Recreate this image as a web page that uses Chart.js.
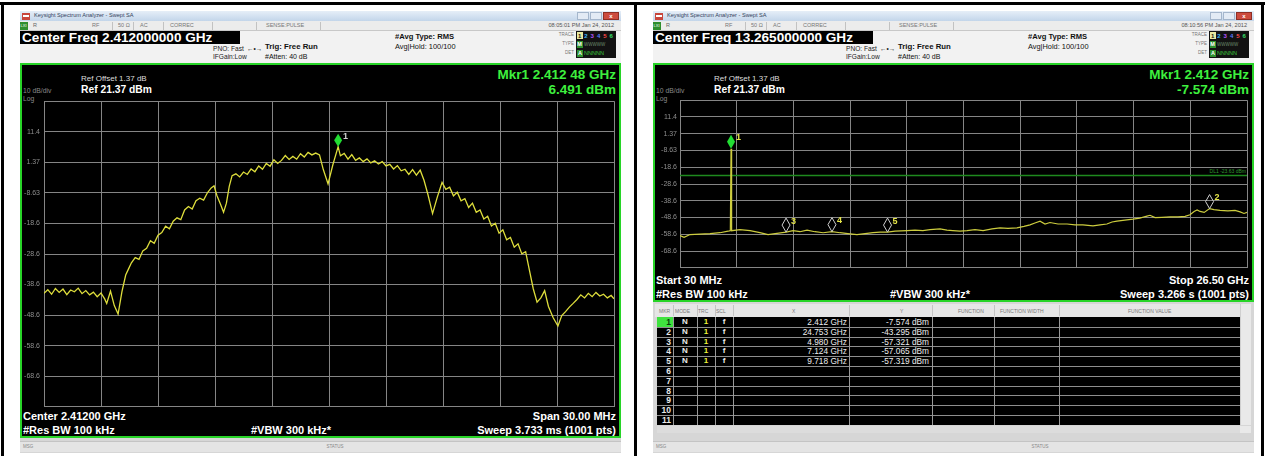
<!DOCTYPE html>
<html>
<head>
<meta charset="utf-8">
<script src="https://cdn.jsdelivr.net/npm/chart.js@4.4.1/dist/chart.umd.min.js"></script>
<style>
html,body{margin:0;padding:0;background:#fff;}
body{position:relative;width:1265px;height:456px;overflow:hidden;font-family:"Liberation Sans",Arial,Helvetica,sans-serif;}
.a{position:absolute;box-sizing:border-box;}
.t{position:absolute;white-space:nowrap;line-height:1;}
canvas{position:absolute;display:block;}
</style>
</head>
<body>
<script>
// ---------------- DATA ----------------
const refLevelDbm = 21.37;
const dbPerDiv = 10;
// y tick labels, top gridline to bottom gridline
const yTickLabels = ['', '11.4', '1.37', '-8.63', '-18.6', '-28.6', '-38.6', '-48.6', '-58.6', '-68.6', ''];

// Left plot: centre 2.412 GHz, span 30 MHz (values in MHz)
const leftFreqMHz = [
2397.0,2397.2,2397.4,2397.6,2397.8,2398.0,2398.2,2398.4,2398.6,2398.8,
2399.0,2399.2,2399.4,2399.6,2399.8,2400.0,2400.2,2400.3,2400.5,2400.7,
2400.9,2401.1,2401.3,2401.45,2401.6,2401.8,2402.0,2402.2,2402.4,2402.6,
2402.8,2403.0,2403.2,2403.4,2403.6,2403.8,2404.0,2404.2,2404.4,2404.6,
2404.8,2405.0,2405.2,2405.4,2405.6,2405.8,2405.95,2406.1,2406.3,2406.45,
2406.6,2406.75,2406.9,2407.1,2407.3,2407.5,2407.7,2407.9,2408.1,2408.3,
2408.5,2408.7,2408.9,2409.1,2409.3,2409.5,2409.7,2409.9,2410.1,2410.3,
2410.5,2410.7,2410.9,2411.1,2411.3,2411.5,2411.7,2411.95,2412.2,2412.48,
2412.6,2412.8,2413.0,2413.2,2413.4,2413.6,2413.8,2414.0,2414.2,2414.4,
2414.6,2414.8,2415.0,2415.2,2415.4,2415.6,2415.8,2416.0,2416.2,2416.4,
2416.6,2416.8,2417.0,2417.2,2417.45,2417.7,2417.95,2418.15,2418.35,2418.55,
2418.75,2418.95,2419.15,2419.35,2419.55,2419.75,2419.95,2420.15,2420.35,2420.55,
2420.75,2420.95,2421.15,2421.35,2421.55,2421.75,2421.95,2422.15,2422.35,2422.55,
2422.75,2422.95,2423.15,2423.35,2423.55,2423.8,2424.05,2424.25,2424.45,2424.65,
2424.85,2425.05,2425.25,2425.45,2425.65,2425.85,2426.05,2426.25,2426.45,2426.65,
2426.85,2427.0];
const leftLevelDbm = [
-41.5,-40.3,-41.8,-39.9,-41.2,-40.1,-41.9,-40.4,-41.0,-39.8,
-41.6,-40.6,-42.0,-41.1,-42.6,-41.4,-43.4,-44.8,-40.8,-45.5,
-48.3,-41.0,-35.5,-33.5,-31.5,-29.8,-30.4,-27.6,-26.8,-24.3,
-25.1,-22.5,-21.6,-19.5,-20.4,-17.9,-16.8,-17.4,-14.2,-13.1,
-13.9,-11.2,-10.4,-11.0,-8.6,-7.0,-6.3,-9.5,-12.5,-15.0,
-12.0,-6.5,-3.0,-2.4,-3.4,-1.8,-2.6,-0.8,-1.7,0.2,
-0.9,1.0,0.1,2.2,1.0,2.0,3.6,2.3,3.3,2.4,
4.2,3.1,4.6,3.8,4.4,3.8,-1.0,-5.7,0.5,6.49,
3.5,4.3,2.4,3.9,2.0,2.8,1.6,2.5,1.2,1.9,
0.8,1.6,0.2,0.7,-0.8,0.3,-1.4,-0.9,-2.6,-1.0,
-2.8,-1.2,-4.5,-9.0,-15.4,-10.0,-5.2,-7.5,-6.8,-9.6,
-8.4,-11.2,-10.5,-13.4,-12.0,-15.0,-14.2,-17.2,-16.3,-19.5,
-18.6,-21.8,-20.7,-24.0,-23.2,-26.4,-25.3,-28.6,-27.9,-34.0,
-40.0,-44.4,-43.0,-40.6,-45.8,-49.5,-52.2,-48.8,-47.5,-46.0,
-44.8,-43.5,-42.0,-43.0,-41.5,-42.6,-41.2,-42.4,-41.8,-43.0,
-42.2,-43.3];
const leftMarkerFreqMHz = [2412.48];
const leftMarkerLevelDbm = [6.491];

// Right plot: 30 MHz .. 26.5 GHz (values in GHz)
const rightFreqGHz = [
0.03,0.22,0.50,0.96,1.43,1.90,2.27,2.38,2.412,2.44,
2.83,3.30,3.76,4.14,4.47,4.98,5.31,5.63,5.96,6.33,
6.71,7.124,7.50,7.87,8.29,8.67,9.04,9.37,9.718,10.07,
10.63,11.00,11.37,11.70,12.17,12.49,12.77,13.10,13.43,13.80,
14.18,14.60,14.97,15.34,15.76,16.09,16.37,16.60,16.84,17.07,
17.30,17.68,18.10,18.47,18.84,19.31,19.64,19.96,20.20,20.43,
20.80,21.18,21.50,21.79,21.97,22.21,22.53,22.91,23.28,23.61,
23.84,24.03,24.17,24.31,24.50,24.753,24.96,25.24,25.61,25.94,
26.18,26.36,26.50];
const rightLevelDbm = [
-59.4,-60.5,-58.8,-58.5,-58.2,-57.7,-56.8,-56.5,-7.574,-56.5,
-55.9,-56.5,-57.6,-58.8,-58.2,-57.321,-56.5,-57.1,-56.2,-57.1,
-57.7,-57.065,-57.7,-58.2,-58.8,-58.2,-57.7,-57.4,-57.319,-56.8,
-56.5,-56.2,-56.5,-55.9,-55.4,-56.2,-56.5,-56.8,-56.5,-55.9,
-56.5,-55.4,-54.8,-55.1,-54.8,-53.9,-53.0,-51.9,-50.8,-52.5,
-51.6,-52.5,-52.5,-53.0,-53.0,-53.6,-53.0,-52.5,-51.3,-50.8,
-50.2,-49.6,-49.0,-47.9,-47.3,-48.7,-48.5,-48.2,-48.2,-47.9,
-47.0,-45.0,-44.1,-45.0,-45.6,-43.295,-43.9,-44.4,-44.7,-44.4,
-45.3,-46.2,-45.6];
const rightMarkerIds = [1, 2, 3, 4, 5];
const rightMarkerFreqGHz = [2.412, 24.753, 4.980, 7.124, 9.718];
const rightMarkerLevelDbm = [-7.574, -43.295, -57.321, -57.065, -57.319];
const displayLineDbm = -23.63;

// ---------------- HELPERS ----------------
function el(cls, css, text) {
  const d = document.createElement('div');
  d.className = cls; d.style.cssText = css;
  if (text != null) d.textContent = text;
  document.body.appendChild(d); return d;
}
function box(x, y, w, h, css) { return el('a', `left:${x}px;top:${y}px;width:${w}px;height:${h}px;${css || ''}`); }
function txt(s, x, y, fs, color, o) {
  o = o || {};
  const tx = o.align === 'right' ? '-100%' : o.align === 'center' ? '-50%' : '0';
  return el('t', `left:${x}px;top:${y}px;font-size:${fs}px;color:${color};font-weight:${o.bold ? 'bold' : 'normal'};transform:translate(${tx},-50%);${o.css || ''}`, s);
}
function mkCanvas(x, y, w, h) {
  const c = document.createElement('canvas');
  c.width = w; c.height = h;
  c.style.cssText = `left:${x}px;top:${y}px;width:${w}px;height:${h}px;`;
  document.body.appendChild(c); return c;
}

// ---------------- PAGE FRAME ----------------
box(0, 2, 1265, 3, 'background:#000;');
box(1, 2, 3, 454, 'background:#000;');
box(634, 2, 3, 454, 'background:#000;');
box(1261, 2, 3, 454, 'background:#000;');

function buildShot(ox, c) {
  box(ox, 11, 601, 442, 'background:#d6d6d6;');
  // title bar
  box(ox, 11, 601, 10, 'background:linear-gradient(#e6eef8,#c3d5ea);');
  box(ox + 2, 12.5, 8, 7, 'background:#c8463c;');
  box(ox + 3, 15, 6, 2, 'background:#fff;');
  txt('Keysight Spectrum Analyzer - Swept SA', ox + 14, 16, 5.6, '#34425a');
  box(ox + 557, 12, 12, 8, 'background:#e3ebf5;border:1px solid #a4b6cc;');
  box(ox + 570, 12, 12, 8, 'background:#e3ebf5;border:1px solid #a4b6cc;');
  box(ox + 583, 12, 16, 8, 'background:#cc4b3e;border:1px solid #8e2f25;');
  txt('x', ox + 591, 15.5, 6, '#fff', {align: 'center', bold: true});
  // menu row
  box(ox, 21, 601, 10, 'background:#ececec;border-bottom:1px solid #c8c8c8;');
  box(ox, 22, 8, 8, 'background:#2e8e2e;');
  txt('LXI', ox + 0.5, 26, 4, '#fff');
  txt('R', ox + 13, 26, 5.5, '#666');
  [[92], [113], [143], [192], [236], [300]].forEach(p => box(ox + p[0], 22, 1, 8, 'background:#c2c2c2;'));
  txt('RF', ox + 72, 26, 5.5, '#777');
  txt('50 Ω', ox + 98, 26, 5.5, '#777');
  txt('AC', ox + 120, 26, 5.5, '#777');
  txt('CORREC', ox + 150, 26, 5.5, '#777');
  txt('SENSE:PULSE', ox + 246, 26, 5.5, '#777');
  txt(c.stamp, ox + 594, 26, 5.6, '#555', {align: 'right'});
  // info area
  box(ox, 31, 601, 32, 'background:#f2f2f2;');
  box(ox, 31, 220, 13, 'background:#000;');
  txt(c.centerFreq, ox + 2, 37.6, 13.6, '#fff', {bold: true});
  txt('PNO: Fast', ox + 193, 48.5, 6.6, '#222');
  txt('\u2190\u2022\u2192', ox + 227, 48.5, 6.5, '#222');
  txt('IFGain:Low', ox + 193, 57, 6.6, '#222');
  txt('Trig: Free Run', ox + 245, 46.5, 7.8, '#111', {bold: true});
  txt('#Atten: 40 dB', ox + 245, 56, 7, '#111');
  txt('#Avg Type: RMS', ox + 375, 37, 7.6, '#111', {bold: true});
  txt('Avg|Hold: 100/100', ox + 375, 46.5, 7.4, '#111');
  // trace box
  txt('TRACE', ox + 554, 35, 4.5, '#777', {align: 'right'});
  txt('TYPE', ox + 554, 44, 4.5, '#777', {align: 'right'});
  txt('DET', ox + 554, 53, 4.5, '#777', {align: 'right'});
  box(ox + 556, 31, 40, 27, 'background:#121212;');
  box(ox + 557, 32, 6, 7, 'background:#e8e8a0;');
  const dc = ['#111', '#3fb8ff', '#b455ff', '#5a7bff', '#ff4848', '#38e06a'];
  dc.forEach((col, i) => txt(String(i + 1), ox + 558 + i * 6.3, 35.5, 6, col, {bold: true}));
  box(ox + 557, 41, 6, 7, 'background:#2f8f2f;');
  txt('M', ox + 557.3, 44.5, 5.5, '#fff', {bold: true});
  txt('WWWWW', ox + 564, 44.5, 4.5, '#6a8a6a');
  box(ox + 557, 50, 6, 7, 'background:#2f8f2f;');
  txt('A', ox + 558, 53.5, 5.5, '#fff', {bold: true});
  txt('NNNNN', ox + 564, 53.5, 5.5, '#3cc83c');

  // green screen
  box(ox, 63, 601, c.screenH, 'background:#000;border:2px solid #27d427;');
  txt('Ref Offset 1.37 dB', ox + 61, 79, 8, '#dcdcdc');
  txt('10 dB/div', ox + 3, 91, 6.8, '#8a8a8a');
  txt('Ref 21.37 dBm', ox + 61, 90, 10.3, '#fff', {bold: true});
  txt('Log', ox + 3, 98.5, 6.8, '#8a8a8a');
  txt(c.mkrF, ox + 596, 75, 13.5, '#3ef03e', {align: 'right', bold: true});
  txt(c.mkrA, ox + 596, 90, 13.5, '#3ef03e', {align: 'right', bold: true});
  const by = 63 + c.screenH;
  txt(c.bl1, ox + 3, by - 22, 11, '#fff', {bold: true});
  txt(c.bl2, ox + 3, by - 8.5, 11, '#fff', {bold: true});
  txt('#VBW 300 kHz*', ox + c.vbwX, by - 8.5, 11, '#fff', {align: 'center', bold: true});
  txt(c.br1, ox + 596, by - 22, 11, '#fff', {align: 'right', bold: true});
  txt(c.br2, ox + 596, by - 8.5, 11, '#fff', {align: 'right', bold: true});
  // status bar
  box(ox, c.statusY, 601, 11, 'background:#e4e4e4;border-top:1px solid #c4c4c4;');
  txt('MSG', ox + 3, c.statusY + 5.5, 4.5, '#888');
  txt('STATUS', ox + c.statusX, c.statusY + 5.5, 4.5, '#888', {align: 'center'});
}

buildShot(20, {
  stamp: '08:05:01 PM Jan 24, 2012', centerFreq: 'Center Freq 2.412000000 GHz',
  mkrF: 'Mkr1 2.412 48 GHz', mkrA: leftMarkerLevelDbm[0].toFixed(3) + ' dBm',
  screenH: 375, bl1: 'Center 2.41200 GHz', bl2: '#Res BW 100 kHz', vbwX: 271,
  br1: 'Span 30.00 MHz', br2: 'Sweep  3.733 ms (1001 pts)', statusY: 441, statusX: 315
});
buildShot(653, {
  stamp: '08:10:56 PM Jan 24, 2012', centerFreq: 'Center Freq 13.265000000 GHz',
  mkrF: 'Mkr1 ' + rightMarkerFreqGHz[0].toFixed(3) + ' GHz', mkrA: rightMarkerLevelDbm[0].toFixed(3) + ' dBm',
  screenH: 239, bl1: 'Start 30 MHz', bl2: '#Res BW 100 kHz', vbwX: 277,
  br1: 'Stop 26.50 GHz', br2: 'Sweep  3.266 s (1001 pts)', statusY: 441, statusX: 387
});

// DL1 label
txt('DL1 -23.63 dBm', 1246, 171, 5, '#2f9a2f', {align: 'right'});

// ---------------- MARKER TABLE (right) ----------------
box(655, 304, 596, 13, 'background:#e6e6e6;');
[['MKR', 659], ['MODE', 675], ['TRC', 698], ['SCL', 716], ['X', 792], ['Y', 900], ['FUNCTION', 958], ['FUNCTION WIDTH', 1000], ['FUNCTION VALUE', 1128]]
  .forEach(h => txt(h[0], h[1], 310.5, 5, '#7a7a7a'));
[673, 697, 715, 733, 849, 932, 994, 1059].forEach(x => box(x, 305, 1, 11, 'background:#c4c4c4;'));
box(657, 317, 583, 108, 'background:#000;');
box(1240, 304, 11, 121, 'background:#e9e9e9;border-left:1px solid #cfcfcf;');
box(657, 426, 583, 7, 'background:#dcdcdc;');
box(1240, 426, 11, 7, 'background:#e9e9e9;');
const rowH = 9.8;
for (let i = 0; i < 11; i++) {
  const top = 317 + i * rowH;
  if (i > 0) box(657, top, 583, 1, 'background:#8e8e8e;');
  if (i === 0) box(657, top, 16, rowH, 'background:#3fe23f;');
  txt(String(i + 1), 671, top + 5, 8.5, i === 0 ? '#0a3a0a' : '#e8e8e8', {align: 'right', bold: true});
  if (i < rightMarkerIds.length) {
    txt('N', 685, top + 5, 8, '#eee', {align: 'center', bold: true});
    txt('1', 706, top + 5, 8, '#f2f23a', {align: 'center', bold: true});
    txt('f', 724, top + 5, 8, '#eee', {align: 'center', bold: true});
    txt(rightMarkerFreqGHz[i].toFixed(3) + ' GHz', 847, top + 5, 8.3, '#eee', {align: 'right'});
    txt(rightMarkerLevelDbm[i].toFixed(3) + ' dBm', 929, top + 5, 8.3, '#eee', {align: 'right'});
  }
}
[673, 697, 715, 733, 849, 932, 994, 1059].forEach(x => box(x, 317, 1, 108, 'background:#9a9a9a;'));

// ---------------- CHARTS ----------------
const GRID = '#858585';
function markerPlugin(items) {
  return {
    id: 'mk',
    afterDatasetsDraw(chart) {
      const ctx = chart.ctx, xs = chart.scales.x, ys = chart.scales.y;
      items.forEach(m => {
        const px = xs.getPixelForValue(m.x), py = ys.getPixelForValue(m.y);
        const w = m.w, h = m.h;
        ctx.save();
        ctx.beginPath();
        ctx.moveTo(px, py);
        ctx.lineTo(px + w / 2, py - h / 2);
        ctx.lineTo(px, py - h);
        ctx.lineTo(px - w / 2, py - h / 2);
        ctx.closePath();
        if (m.fill) { ctx.fillStyle = m.fill; ctx.fill(); }
        if (m.stroke) { ctx.strokeStyle = m.stroke; ctx.lineWidth = 1; ctx.stroke(); }
        ctx.fillStyle = m.labelColor;
        ctx.font = 'bold 9px "Liberation Sans", Arial, sans-serif';
        ctx.textBaseline = 'middle';
        ctx.fillText(m.label, px + w / 2 + 1, py - h + 3);
        ctx.restore();
      });
    }
  };
}
function spectrum(canvas, c) {
  const xstep = (c.xMax - c.xMin) / 10;
  const yMin = refLevelDbm - 10 * dbPerDiv;
  return new Chart(canvas, {
    type: 'line',
    data: { datasets: c.datasets },
    options: {
      responsive: false, animation: false, events: [],
      layout: { autoPadding: false, padding: c.pad },
      plugins: { legend: { display: false }, tooltip: { enabled: false } },
      scales: {
        x: {
          type: 'linear', min: c.xMin, max: c.xMax,
          afterBuildTicks: a => { a.ticks = Array.from({length: 11}, (_, i) => ({value: c.xMin + i * xstep})); },
          afterFit: a => { a.height = 0; },
          ticks: { display: false },
          grid: { color: GRID, lineWidth: 1, drawTicks: false },
          border: { color: GRID }
        },
        y: {
          type: 'linear', min: yMin, max: refLevelDbm,
          afterBuildTicks: a => { a.ticks = Array.from({length: 11}, (_, i) => ({value: yMin + i * dbPerDiv})); },
          afterFit: a => { a.width = c.axisW; },
          ticks: { color: '#8d8d8d', autoSkip: false, padding: c.tickPad,
                   font: { size: 7, family: '"Liberation Sans", Arial, sans-serif' },
                   callback: (v, i) => yTickLabels[10 - i] },
          grid: { color: GRID, lineWidth: 1, drawTicks: false },
          border: { color: GRID }
        }
      }
    },
    plugins: [markerPlugin(c.markers)]
  });
}

// left chart: chart area x 44..614, y 99..409
spectrum(mkCanvas(22, 93, 596, 322), {
  xMin: leftFreqMHz[0], xMax: leftFreqMHz[leftFreqMHz.length - 1],
  pad: { left: 0, right: 4, top: 6, bottom: 6 }, axisW: 22, tickPad: 4,
  datasets: [{
    data: leftFreqMHz.map((f, i) => ({x: f, y: leftLevelDbm[i]})),
    borderColor: '#dede3c', borderWidth: 1.3, pointRadius: 0, tension: 0
  }],
  markers: leftMarkerFreqMHz.map((f, i) => ({x: f, y: leftMarkerLevelDbm[i], w: 8, h: 13, fill: '#22dd33', label: '1', labelColor: '#d0d0d0'}))
});

// right chart: chart area x 680..1247, y 97..271
spectrum(mkCanvas(655, 93, 595, 182), {
  xMin: 0.03, xMax: 26.5,
  pad: { left: 0, right: 3, top: 4, bottom: 4 }, axisW: 25, tickPad: 3,
  datasets: [{
    data: rightFreqGHz.map((f, i) => ({x: f, y: rightLevelDbm[i]})),
    borderColor: '#cccc3e', borderWidth: 1.2, pointRadius: 0, tension: 0
  }, {
    data: [{x: 0.03, y: displayLineDbm}, {x: 26.5, y: displayLineDbm}],
    borderColor: '#1e8a1e', borderWidth: 1.5, pointRadius: 0
  }],
  markers: rightMarkerIds.map((id, i) => ({
    x: rightMarkerFreqGHz[i], y: rightMarkerLevelDbm[i], w: 8, h: 14,
    fill: i === 0 ? '#22dd33' : null, stroke: i === 0 ? null : '#cfcfcf',
    label: String(id), labelColor: '#e6e64a'
  }))
});
</script>
</body>
</html>
